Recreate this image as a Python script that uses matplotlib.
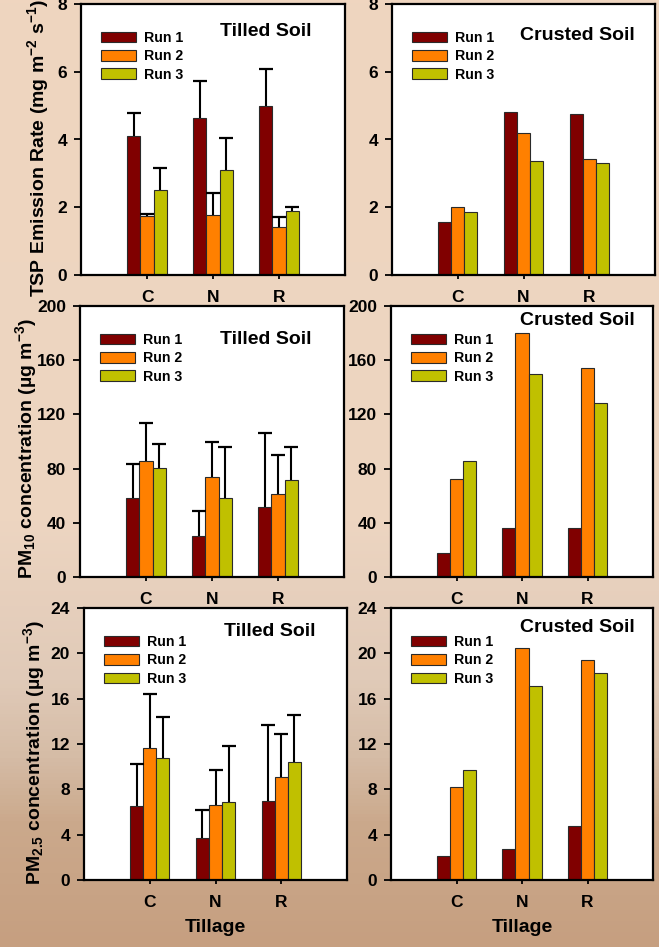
# ---   IMPORTS   --- #
# ------------------- #
import numpy as np
import matplotlib
matplotlib.use('Agg')
import matplotlib.pyplot as plt
from matplotlib.colors import LinearSegmentedColormap


# ---   DATA   --- #
# ---------------- #
CATEGORIES = ['C', 'N', 'R']
RUNS = ['Run 1', 'Run 2', 'Run 3']
RUN_COLORS = ['#800000', '#FF8000', '#C0C000']

# TSP emission rate (mg m-2 s-1), one list per run over C, N, R
TSP_TILLED = [[4.09, 4.63, 4.99], [1.73, 1.76, 1.41], [2.50, 3.09, 1.88]]
TSP_TILLED_ERR = [[0.69, 1.09, 1.09], [0.07, 0.66, 0.31], [0.65, 0.96, 0.14]]
TSP_CRUSTED = [[1.56, 4.80, 4.74], [2.02, 4.18, 3.42], [1.86, 3.38, 3.30]]

# PM10 concentration (ug m-3)
PM10_TILLED = [[58.2, 30.2, 51.6], [85.5, 73.7, 61.4], [80.3, 58.0, 71.7]]
PM10_TILLED_ERR = [[25.3, 18.7, 55.0], [28.0, 25.6, 28.3], [17.7, 38.3, 24.4]]
PM10_CRUSTED = [[17.7, 36.1, 35.9], [72.2, 180.3, 154.3], [85.3, 149.6, 128.7]]

# PM2.5 concentration (ug m-3)
PM25_TILLED = [[6.54, 3.68, 6.98], [11.66, 6.65, 9.10], [10.78, 6.86, 10.37]]
PM25_TILLED_ERR = [[3.71, 2.50, 6.68], [4.77, 3.04, 3.77], [3.56, 4.98, 4.18]]
PM25_CRUSTED = [[2.12, 2.74, 4.77], [8.19, 20.49, 19.41], [9.75, 17.11, 18.23]]

TSP_LABEL = 'TSP Emission Rate (mg m$^{-2}$ s$^{-1}$)'
PM10_LABEL = 'PM$_{10}$ concentration (µg m$^{-3}$)'
PM25_LABEL = 'PM$_{2.5}$ concentration (µg m$^{-3}$)'


# ---  STYLE  --- #
# --------------- #
plt.rcParams['font.family'] = ['Liberation Sans', 'DejaVu Sans']
plt.rcParams['font.weight'] = 'bold'
plt.rcParams['axes.labelweight'] = 'bold'
plt.rcParams['mathtext.fontset'] = 'custom'
plt.rcParams['mathtext.rm'] = 'Liberation Sans:bold'
plt.rcParams['mathtext.it'] = 'Liberation Sans:bold'
plt.rcParams['mathtext.bf'] = 'Liberation Sans:bold'
plt.rcParams['mathtext.default'] = 'rm'

FIG_W, FIG_H = 659, 947


def px_rect(left, top, right, bottom):
    # Pixel box -> figure fraction rect
    return [left / FIG_W, 1 - bottom / FIG_H,
            (right - left) / FIG_W, (bottom - top) / FIG_H]


# ---  METHODS  --- #
# ----------------- #
def draw_panel(fig, rect, series, errs, ymax, ystep, title, title_pos,
               ylabel=None, ylabel_pos=None, xlabel=None):
    ax = fig.add_axes(rect)
    ax.set_facecolor('white')
    x = np.arange(1, len(CATEGORIES) + 1)
    width = 0.2
    for i, vals in enumerate(series):
        xi = x + (i - 1) * width
        ax.bar(xi, vals, width=width, color=RUN_COLORS[i],
               edgecolor='#2a2a2a', linewidth=0.8, label=RUNS[i], zorder=2)
        if errs is not None:
            vals = np.asarray(vals)
            tops = vals + np.asarray(errs[i])
            ax.vlines(xi, vals, tops, color='black', lw=1.5, zorder=3)
            ax.plot(xi, tops, ls='none', marker='_', color='black',
                    markersize=9.5, markeredgewidth=1.6, zorder=3)
    # Axes format
    ax.set_xlim(0, 4)
    ax.set_ylim(0, ymax)
    ax.set_xticks(x)
    ax.set_xticklabels(CATEGORIES)
    ax.set_yticks(np.arange(0, ymax + ystep / 2, ystep))
    ax.tick_params(axis='x', length=3, width=1.3, pad=8, labelsize=12.5)
    ax.tick_params(axis='y', length=5, width=1.3, pad=5, labelsize=12.5)
    for sp in ax.spines.values():
        sp.set_linewidth(1.6)
    ax.text(title_pos[0], title_pos[1], title, transform=ax.transAxes,
            ha='right', va='center', fontsize=14, fontweight='bold')
    ax.legend(loc='upper left', bbox_to_anchor=(0.076, 0.9),
              frameon=False, borderpad=0, borderaxespad=0, fontsize=10.2,
              handlelength=2.5, handleheight=0.75, handletextpad=0.55,
              labelspacing=0.3)
    if ylabel is not None:
        ax.set_ylabel(ylabel, fontsize=14)
        ax.yaxis.set_label_coords(ylabel_pos[0], ylabel_pos[1])
    if xlabel is not None:
        ax.set_xlabel(xlabel, fontsize=14, labelpad=6)
    return ax


# ---   MAIN   --- #
# ---------------- #
if __name__ == '__main__':
    fig = plt.figure(figsize=(FIG_W / 100, FIG_H / 100), dpi=100)
    # Soil-like background
    bg = fig.add_axes([0, 0, 1, 1], zorder=-1)
    cmap = LinearSegmentedColormap.from_list('soil', [
        (0.0, '#EFD5BF'), (0.55, '#EDD5C1'), (0.72, '#E0CAB8'),
        (0.80, '#D5BCA6'), (0.87, '#CBA98C'), (1.0, '#C69F80')])
    bg.imshow(np.linspace(0, 1, 256).reshape(-1, 1), cmap=cmap,
              aspect='auto', extent=[0, 1, 0, 1])
    bg.axis('off')
    # Top row: TSP
    draw_panel(fig, px_rect(81, 4, 345, 275), TSP_TILLED, TSP_TILLED_ERR,
               8, 2, 'Tilled Soil', (0.875, 0.897),
               ylabel=TSP_LABEL, ylabel_pos=(-0.114, 0.467))
    draw_panel(fig, px_rect(392, 4, 655, 275), TSP_CRUSTED, None,
               8, 2, 'Crusted Soil', (0.924, 0.882))
    # Middle row: PM10
    draw_panel(fig, px_rect(80, 306, 344, 577), PM10_TILLED, PM10_TILLED_ERR,
               200, 40, 'Tilled Soil', (0.875, 0.878),
               ylabel=PM10_LABEL, ylabel_pos=(-0.155, 0.476))
    draw_panel(fig, px_rect(391, 306, 653, 577), PM10_CRUSTED, None,
               200, 40, 'Crusted Soil', (0.931, 0.945))
    # Bottom row: PM2.5
    draw_panel(fig, px_rect(84, 608, 347, 880), PM25_TILLED, PM25_TILLED_ERR,
               24, 4, 'Tilled Soil', (0.882, 0.915),
               ylabel=PM25_LABEL, ylabel_pos=(-0.141, 0.47), xlabel='Tillage')
    draw_panel(fig, px_rect(391, 608, 653, 880), PM25_CRUSTED, None,
               24, 4, 'Crusted Soil', (0.931, 0.93), xlabel='Tillage')
    plt.savefig('out.png', dpi=100)
